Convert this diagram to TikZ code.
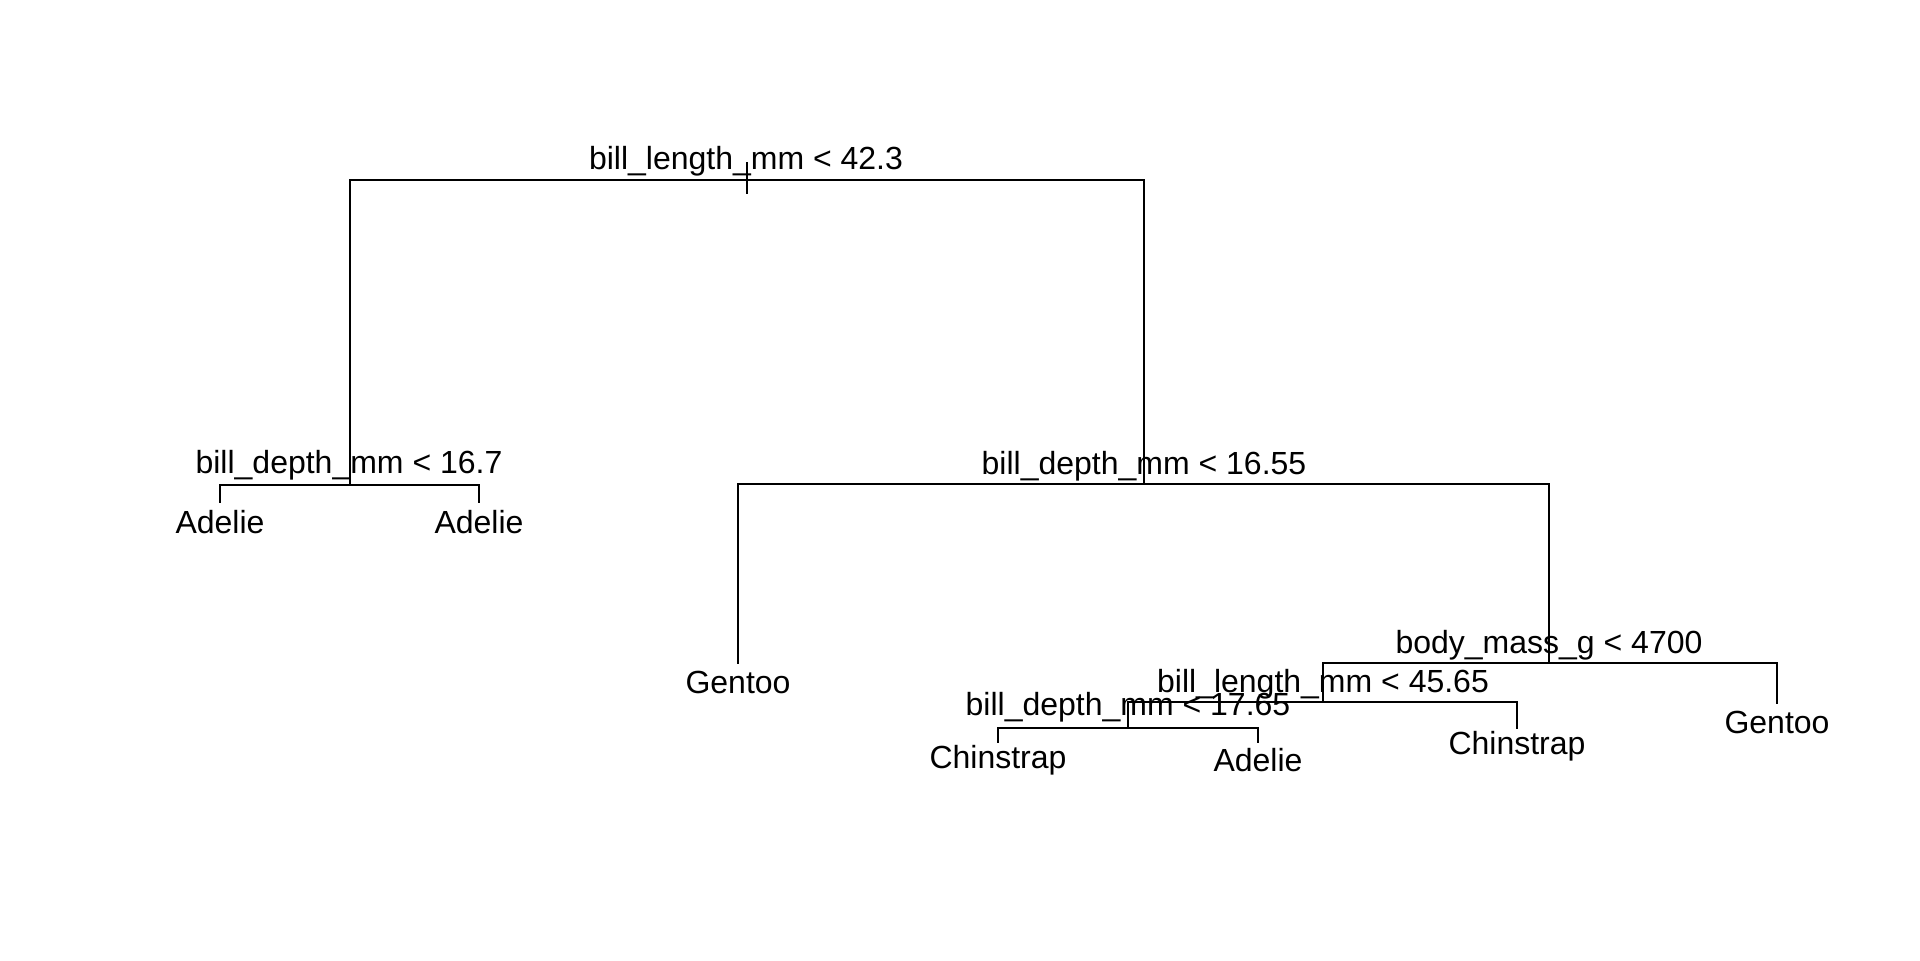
\documentclass[tikz,border=0pt]{standalone}
\usepackage{fontspec}
\setmainfont{Liberation Sans}
\begin{document}
\begin{tikzpicture}[x=0.5pt,y=-0.5pt,
  edge/.style={line width=1pt,line cap=rect},
  lbl/.style={anchor=base,inner sep=0pt,font=\fontsize{16}{19}\selectfont}]
\useasboundingbox (0,0) rectangle (1920,960);
% split points
\coordinate (r) at (747,180);
\coordinate (rtop) at (747,163);
\coordinate (rbot) at (747,193);
\coordinate (L) at (350,485);
\coordinate (R) at (1144,484);
\coordinate (B) at (1549,663);
\coordinate (C) at (1323,702);
\coordinate (D) at (1128,728);
% leaf ends
\coordinate (la1) at (220,502);
\coordinate (la2) at (479,502);
\coordinate (g1) at (738,663);
\coordinate (g2) at (1777,703);
\coordinate (cs2) at (1517,728);
\coordinate (cs1) at (998,742);
\coordinate (a3) at (1258,742);
% edges
\draw[edge] (L) |- (r) -| (R);
\draw[edge] (rtop) -- (rbot);
\draw[edge] (la1) |- (L) -| (la2);
\draw[edge] (g1) |- (R) -| (B);
\draw[edge] (C) |- (B) -| (g2);
\draw[edge] (D) |- (C) -| (cs2);
\draw[edge] (cs1) |- (D) -| (a3);
% split labels
\node[lbl] (tr) at (746,169) {bill\_length\_mm < 42.3};
\node[lbl] (tL) at (349,473) {bill\_depth\_mm < 16.7};
\node[lbl] (tR) at (1144,474) {bill\_depth\_mm < 16.55};
\node[lbl] (tB) at (1549,653) {body\_mass\_g < 4700};
\node[lbl] (tC) at (1323,692) {bill\_length\_mm < 45.65};
\node[lbl] (tD) at (1128,715) {bill\_depth\_mm < 17.65};
% leaf labels
\node[lbl] (nla1) at (220,533) {Adelie};
\node[lbl] (nla2) at (479,533) {Adelie};
\node[lbl] (ng1) at (738,693) {Gentoo};
\node[lbl] (ng2) at (1777,733) {Gentoo};
\node[lbl] (ncs2) at (1517,754) {Chinstrap};
\node[lbl] (ncs1) at (998,768) {Chinstrap};
\node[lbl] (na3) at (1258,771) {Adelie};
\end{tikzpicture}
\end{document}
